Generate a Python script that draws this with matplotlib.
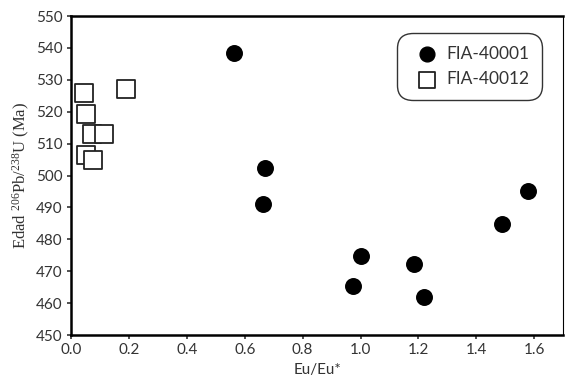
import matplotlib
matplotlib.use("Agg")
import matplotlib.pyplot as plt

plt.rcParams['font.family'] = ['Lato', 'DejaVu Sans']
plt.rcParams['mathtext.default'] = 'regular'

# FIA-40001 (filled circles)
eu_40001 = [0.563, 0.670, 0.664, 1.490, 1.578, 1.001, 0.975, 1.185, 1.219]
age_40001 = [538.4, 502.4, 491.0, 484.7, 495.2, 474.8, 465.4, 472.3, 462.0]

# FIA-40012 (open squares)
eu_40012 = [0.046, 0.191, 0.051, 0.071, 0.113, 0.051, 0.077]
age_40012 = [525.8, 527.1, 519.2, 513.0, 513.0, 506.4, 504.9]

xticks = [0.0, 0.2, 0.4, 0.6, 0.8, 1.0, 1.2, 1.4, 1.6]
yticks = [450, 460, 470, 480, 490, 500, 510, 520, 530, 540, 550]

fig = plt.figure(figsize=(5.66, 3.82), dpi=100)
ax = fig.add_axes([0.1254, 0.123, 0.8696, 0.835])

ax.scatter(eu_40001, age_40001, s=125, marker='o', color='black', label='FIA-40001', zorder=3)
ax.scatter(eu_40012, age_40012, s=150, marker='s', facecolor='white', edgecolor='#222222',
           linewidth=1.3, label='FIA-40012', zorder=3)

ax.set_xlim(0, 1.7)
ax.set_ylim(450, 550)
ax.set_xticks(xticks)
ax.set_yticks(yticks)
ax.set_xticklabels([f"{v:.1f}" for v in xticks])
ax.tick_params(direction='out', length=3, width=1.2, labelsize=11, colors='#333333', pad=3)
ax.tick_params(labelcolor='#333333')

for side in ['left', 'bottom', 'top']:
    ax.spines[side].set_linewidth(1.8)
ax.spines['right'].set_linewidth(0.8)

ax.set_xlabel('Eu/Eu*', fontsize=11, color='#333333', labelpad=4)
ax.set_ylabel('Edad $^{206}$Pb/$^{238}$U (Ma)', fontsize=12, color='#333333',
              family=['Liberation Serif', 'DejaVu Serif'], labelpad=3)

leg = ax.legend(loc='upper right', bbox_to_anchor=(0.958, 0.948), fontsize=12.5,
                frameon=True, fancybox=True, edgecolor='black', handletextpad=0.2,
                borderpad=0.75, borderaxespad=0, markerscale=0.95, labelspacing=0.55,
                handlelength=1.9)
frame = leg.get_frame()
frame.set_linewidth(1.0)
frame.set_boxstyle('round,pad=0,rounding_size=0.9')
for t in leg.get_texts():
    t.set_color('#333333')

fig.savefig('out.png', dpi=100)
